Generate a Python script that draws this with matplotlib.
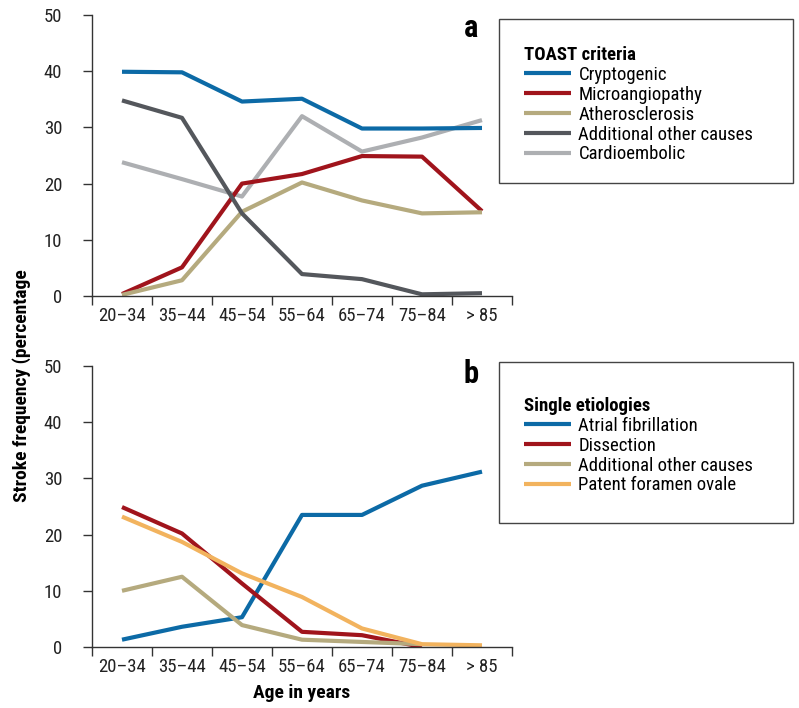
"""Stroke etiology frequency by age group: TOAST criteria (a) and single etiologies (b)."""
import numpy as np
import matplotlib
matplotlib.use("Agg")
import matplotlib.pyplot as plt
from matplotlib.patches import Rectangle

plt.rcParams["font.family"] = ["Roboto Condensed", "Roboto", "DejaVu Sans"]

age_groups = ["20\u201334", "35\u201344", "45\u201354", "55\u201364", "65\u201374", "75\u201384", "> 85"]

# panel a: TOAST criteria (%)
cryptogenic = [39.9, 39.8, 34.6, 35.1, 29.8, 29.8, 29.9]
microangiopathy = [0.35, 5.1, 20.0, 21.7, 24.9, 24.8, 15.1]
atherosclerosis = [0.2, 2.8, 15.0, 20.2, 17.0, 14.7, 14.9]
other_causes_a = [34.8, 31.7, 14.7, 3.9, 3.0, 0.3, 0.5]
cardioembolic = [23.8, 20.8, 17.7, 32.0, 25.7, 28.2, 31.3]

# panel b: single etiologies (%)
atrial_fib = [1.3, 3.6, 5.3, 23.5, 23.5, 28.7, 31.2]
dissection = [24.9, 20.2, 11.3, 2.7, 2.1, 0.0, np.nan]
other_causes_b = [10.0, 12.5, 3.9, 1.3, 0.9, 0.5, np.nan]
pfo = [23.2, 18.7, 13.1, 8.9, 3.3, 0.5, 0.3]

BLUE = "#0c6aa6"
RED = "#a0141c"
TAN = "#b5aa7e"
DGRAY = "#54575c"
LGRAY = "#adafb2"
ORANGE = "#f2b35e"
AXC = "#333333"

W, H = 799, 708
fig = plt.figure(figsize=(W / 100, H / 100), dpi=100)


def fx(px):
    return px / W


def fy(py):
    return 1 - py / H


def style_axes(ax):
    x = np.arange(len(age_groups)) + 0.5
    ax.set_xlim(0, len(age_groups))
    ax.set_ylim(0, 50)
    for s in ("top", "right"):
        ax.spines[s].set_visible(False)
    for s in ("left", "bottom"):
        ax.spines[s].set_color(AXC)
        ax.spines[s].set_linewidth(1.0)
    ax.set_yticks([0, 10, 20, 30, 40, 50])
    ax.tick_params(axis="y", direction="out", length=6.5, width=1.0,
                   color=AXC, labelsize=13.5, pad=15, labelcolor="#222222")
    ax.set_xticks(np.arange(len(age_groups) + 1))
    ax.set_xticklabels([])
    ax.tick_params(axis="x", which="major", direction="out", length=6.5,
                   width=1.0, color=AXC)
    ax.set_xticks(x, minor=True)
    ax.set_xticklabels(age_groups, minor=True)
    ax.tick_params(axis="x", which="minor", length=0, labelsize=13.5,
                   pad=8, labelcolor="#222222")
    return x


def add_legend(ax, handles, title, box, title_gap):
    x0, y0, x1, y1 = box
    fig.patches.append(Rectangle((fx(x0), fy(y1)), fx(x1) - fx(x0),
                                 fy(y0) - fy(y1), transform=fig.transFigure,
                                 fill=False, edgecolor="#444444", lw=1.0))
    leg = ax.legend(handles=handles, loc="upper left",
                    bbox_to_anchor=(fx(x0 + 10), fy(y0 + title_gap)),
                    bbox_transform=fig.transFigure, frameon=False,
                    title=title, alignment="left", fontsize=13.5,
                    title_fontproperties={"weight": "bold", "size": 13.5},
                    handlelength=2.5, handletextpad=0.4,
                    labelspacing=0.1, borderpad=0.3)
    return leg


# panel a
axA = fig.add_axes([fx(92), fy(296), fx(512) - fx(92), fy(15) - fy(296)])
x = style_axes(axA)
la = []
for vals, c, lab in ((cryptogenic, BLUE, "Cryptogenic"),
                     (microangiopathy, RED, "Microangiopathy"),
                     (atherosclerosis, TAN, "Atherosclerosis"),
                     (other_causes_a, DGRAY, "Additional other causes"),
                     (cardioembolic, LGRAY, "Cardioembolic")):
    la.append(axA.plot(x, vals, color=c, lw=3.0, label=lab,
                       solid_capstyle="butt")[0])
# grey cardioembolic line sits under the coloured ones
la[4].set_zorder(1.5)
add_legend(axA, la, "TOAST criteria", (499, 19, 793, 183), 12)
fig.text(fx(471), fy(28), "a", fontsize=22, fontweight="bold",
         ha="center", va="center")

# panel b
axB = fig.add_axes([fx(92), fy(647), fx(512) - fx(92), fy(366) - fy(647)])
x = style_axes(axB)
lb = []
for vals, c, lab in ((atrial_fib, BLUE, "Atrial fibrillation"),
                     (dissection, RED, "Dissection"),
                     (other_causes_b, TAN, "Additional other causes"),
                     (pfo, ORANGE, "Patent foramen ovale")):
    lb.append(axB.plot(x, vals, color=c, lw=3.0, label=lab,
                       solid_capstyle="butt")[0])
add_legend(axB, lb, "Single etiologies", (499, 362, 793, 523), 20)
fig.text(fx(471), fy(374), "b", fontsize=22, fontweight="bold",
         ha="center", va="center")

axB.set_xlabel("Age in years", fontsize=14, fontweight="bold", labelpad=6)
fig.text(fx(22), fy(386), "Stroke frequency (percentage", rotation=90,
         fontsize=14, fontweight="bold", ha="center", va="center")

fig.savefig("out.png", dpi=100)
